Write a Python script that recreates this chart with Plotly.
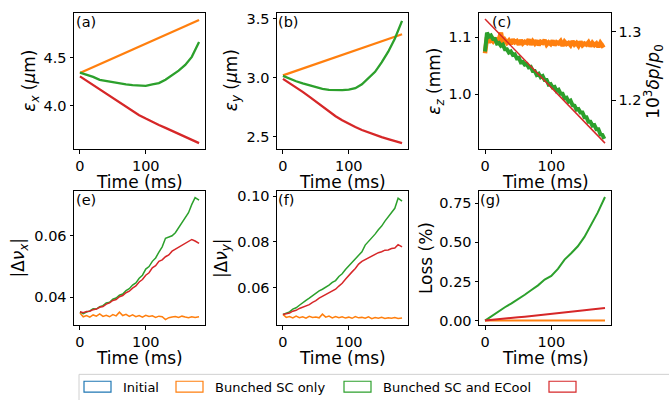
import plotly.graph_objects as go

# ---------------- data ----------------
t_coarse = [0, 10, 20, 30, 40, 50, 60, 70, 80, 90, 100, 110, 120, 130, 140, 150, 160, 170, 181]
t_mid = [0, 5, 10, 15, 20, 25, 30, 35, 40, 45, 50, 55, 60, 65, 70, 75, 80, 85, 90, 95,
         100, 105, 110, 115, 120, 125, 130, 135, 140, 145, 150, 155, 160, 165, 170, 175, 181]
t_fine = [0, 3, 6, 9, 12, 15, 18, 21, 24, 27, 30, 33, 36, 39, 42, 45, 48, 51, 54, 57,
          60, 63, 66, 69, 72, 75, 78, 81, 84, 87, 90, 93, 96, 99, 102, 105, 108, 111, 114, 117,
          120, 123, 126, 129, 132, 135, 138, 141, 144, 147, 150, 153, 156, 159, 162, 165, 168, 171, 174, 177, 180]

# (a) emittance x (um)
ex_sc = [4.340, 4.371, 4.402, 4.432, 4.463, 4.494, 4.525, 4.555, 4.586, 4.617, 4.648, 4.679,
         4.709, 4.740, 4.771, 4.802, 4.832, 4.863, 4.897]
ex_sc_ecool = [4.345, 4.325, 4.300, 4.268, 4.255, 4.243, 4.232, 4.222, 4.214, 4.207, 4.206, 4.220,
               4.235, 4.270, 4.315, 4.365, 4.425, 4.510, 4.665]
ex_ecool = [4.305, 4.260, 4.215, 4.172, 4.125, 4.077, 4.030, 3.983, 3.940, 3.898, 3.862, 3.826,
            3.795, 3.765, 3.735, 3.703, 3.672, 3.639, 3.604]

# (b) emittance y (um)
ey_sc = [3.020, 3.039, 3.058, 3.078, 3.097, 3.116, 3.135, 3.154, 3.173, 3.193, 3.212, 3.231,
         3.250, 3.269, 3.288, 3.308, 3.327, 3.346, 3.367]
ey_sc_ecool = [3.015, 2.990, 2.970, 2.952, 2.935, 2.918, 2.905, 2.897, 2.894, 2.895, 2.900, 2.912,
               2.945, 2.995, 3.050, 3.130, 3.220, 3.330, 3.480]
ey_ecool = [2.990, 2.955, 2.918, 2.880, 2.840, 2.798, 2.757, 2.715, 2.674, 2.640, 2.610, 2.583,
            2.558, 2.536, 2.516, 2.498, 2.481, 2.465, 2.448]

# (c) longitudinal emittance (mm)
ez_sc = [1.072, 1.100, 1.091, 1.097, 1.093, 1.099, 1.090, 1.096, 1.108, 1.089, 1.095, 1.090,
         1.094, 1.088, 1.096, 1.091, 1.093, 1.087, 1.095, 1.089, 1.092, 1.090, 1.096, 1.087,
         1.093, 1.089, 1.094, 1.086, 1.092, 1.090, 1.095, 1.087, 1.091, 1.088, 1.094, 1.086,
         1.091, 1.089, 1.093, 1.085, 1.092, 1.088, 1.090, 1.086, 1.093, 1.087, 1.090, 1.085,
         1.092, 1.086, 1.089, 1.087, 1.091, 1.084, 1.090, 1.086, 1.089, 1.083, 1.090, 1.085, 1.087]
ez_sc_ecool = [1.075, 1.108, 1.101, 1.103, 1.097, 1.097, 1.089, 1.090, 1.085, 1.087, 1.079, 1.079,
               1.073, 1.075, 1.069, 1.070, 1.063, 1.064, 1.056, 1.057, 1.052, 1.053, 1.047, 1.048,
               1.041, 1.041, 1.034, 1.036, 1.030, 1.032, 1.025, 1.025, 1.017, 1.018, 1.012, 1.013,
               1.006, 1.008, 1.001, 1.001, 0.993, 0.994, 0.987, 0.989, 0.981, 0.980, 0.973, 0.974,
               0.968, 0.968, 0.960, 0.960, 0.952, 0.952, 0.945, 0.946, 0.939, 0.939, 0.930, 0.929, 0.922]
ez_ecool = [1.132, 1.120, 1.108, 1.096, 1.084, 1.072, 1.060, 1.048, 1.036, 1.024, 1.012, 1.000,
            0.988, 0.976, 0.964, 0.952, 0.940, 0.928, 0.9145]

# (e) |dnu_x|
dnux_sc = [0.0348, 0.0336, 0.0340, 0.0335, 0.0342, 0.0338, 0.0345, 0.0337, 0.0341, 0.0336, 0.0343,
           0.0339, 0.0351, 0.0340, 0.0344, 0.0337, 0.0342, 0.0336, 0.0340, 0.0335, 0.0341, 0.0337,
           0.0339, 0.0334, 0.0338, 0.0336, 0.0327, 0.0333, 0.0335, 0.0337, 0.0334, 0.0338, 0.0335,
           0.0333, 0.0336, 0.0334, 0.0336]
dnux_sc_ecool = [0.0352, 0.0346, 0.0351, 0.0355, 0.0362, 0.0361, 0.0369, 0.0372, 0.0381, 0.0383,
                 0.0393, 0.0397, 0.0406, 0.0410, 0.0421, 0.0427, 0.0439, 0.0446, 0.0461, 0.0471,
                 0.0491, 0.0499, 0.0516, 0.0527, 0.0546, 0.0563, 0.0591, 0.0594, 0.0599, 0.0609,
                 0.0626, 0.0644, 0.0661, 0.0674, 0.0701, 0.0723, 0.0715]
dnux_ecool = [0.0352, 0.0349, 0.0353, 0.0354, 0.0359, 0.0361, 0.0367, 0.0369, 0.0377, 0.0381,
              0.0389, 0.0392, 0.0401, 0.0405, 0.0414, 0.0419, 0.0429, 0.0436, 0.0449, 0.0457,
              0.0471, 0.0479, 0.0495, 0.0502, 0.0516, 0.0521, 0.0531, 0.0537, 0.0549, 0.0555,
              0.0563, 0.0567, 0.0575, 0.0579, 0.0587, 0.0582, 0.0574]

# (f) |dnu_y|
dnuy_sc = [0.0483, 0.0470, 0.0474, 0.0468, 0.0476, 0.0469, 0.0473, 0.0467, 0.0475, 0.0470, 0.0472,
           0.0468, 0.0484, 0.0471, 0.0476, 0.0468, 0.0474, 0.0469, 0.0473, 0.0467, 0.0471, 0.0466,
           0.0474, 0.0468, 0.0470, 0.0466, 0.0472, 0.0464, 0.0469, 0.0466, 0.0470, 0.0465, 0.0468,
           0.0466, 0.0469, 0.0465, 0.0467]
dnuy_sc_ecool = [0.0483, 0.0489, 0.0494, 0.0506, 0.0512, 0.0523, 0.0532, 0.0544, 0.0554, 0.0566,
                 0.0574, 0.0586, 0.0593, 0.0601, 0.0611, 0.0623, 0.0631, 0.0649, 0.0661, 0.0679,
                 0.0694, 0.0711, 0.0724, 0.0741, 0.0757, 0.0786, 0.0802, 0.0816, 0.0834, 0.0853,
                 0.0869, 0.0891, 0.0909, 0.0929, 0.0947, 0.0991, 0.0978]
dnuy_ecool = [0.0483, 0.0486, 0.0489, 0.0497, 0.0501, 0.0509, 0.0514, 0.0522, 0.0526, 0.0536,
              0.0543, 0.0554, 0.0562, 0.0571, 0.0577, 0.0587, 0.0593, 0.0607, 0.0619, 0.0637,
              0.0651, 0.0669, 0.0684, 0.0703, 0.0715, 0.0723, 0.0729, 0.0739, 0.0745, 0.0753,
              0.0757, 0.0764, 0.0765, 0.0771, 0.0773, 0.0788, 0.0778]

# (g) loss (%)
loss_sc = [0.0, 0.0, 0.0, 0.0, 0.0, 0.0, 0.0, 0.0, 0.0, 0.0, 0.0, 0.0, 0.0, 0.0, 0.0, 0.0, 0.0, 0.0, 0.0]
loss_sc_ecool = [0.0, 0.030, 0.058, 0.085, 0.110, 0.135, 0.165, 0.195, 0.225, 0.262, 0.285, 0.330,
                 0.390, 0.430, 0.475, 0.535, 0.615, 0.690, 0.790]
loss_ecool = [0.0, 0.005, 0.009, 0.013, 0.017, 0.021, 0.025, 0.030, 0.035, 0.039, 0.043, 0.047,
              0.052, 0.057, 0.062, 0.066, 0.070, 0.074, 0.080]

legend_labels = ["Initial", "Bunched SC only", "Bunched SC and ECool", ""]
panel_labels = ["(a)", "(b)", "(c)", "(e)", "(f)", "(g)"]

C_BLUE, C_ORANGE, C_GREEN, C_RED = "#1f77b4", "#ff7f0e", "#2ca02c", "#d62728"
FONT = "DejaVu Sans"
W, H = 669, 400

fig = go.Figure()

def add(x, y, color, width, xa, ya):
    fig.add_trace(go.Scatter(x=x, y=y, mode="lines", line=dict(color=color, width=width),
                             xaxis=xa, yaxis=ya, showlegend=False, hoverinfo="skip"))

# (a)
add(t_coarse, ex_sc, C_ORANGE, 2.3, "x", "y")
add(t_coarse, ex_sc_ecool, C_GREEN, 2.3, "x", "y")
add(t_coarse, ex_ecool, C_RED, 2.3, "x", "y")
# (b)
add(t_coarse, ey_sc, C_ORANGE, 2.3, "x2", "y2")
add(t_coarse, ey_sc_ecool, C_GREEN, 2.3, "x2", "y2")
add(t_coarse, ey_ecool, C_RED, 2.3, "x2", "y2")
# (c)
add(t_fine, ez_sc, C_ORANGE, 4.5, "x3", "y3")
add(t_fine, ez_sc_ecool, C_GREEN, 4.0, "x3", "y3")
add(t_coarse, ez_ecool, C_RED, 1.5, "x3", "y3")
# (e)
add(t_mid, dnux_sc, C_ORANGE, 1.5, "x4", "y4")
add(t_mid, dnux_sc_ecool, C_GREEN, 1.5, "x4", "y4")
add(t_mid, dnux_ecool, C_RED, 1.5, "x4", "y4")
# (f)
add(t_mid, dnuy_sc, C_ORANGE, 1.5, "x5", "y5")
add(t_mid, dnuy_sc_ecool, C_GREEN, 1.5, "x5", "y5")
add(t_mid, dnuy_ecool, C_RED, 1.5, "x5", "y5")
# (g)
add(t_coarse, loss_sc, C_ORANGE, 2.0, "x6", "y6")
add(t_coarse, loss_sc_ecool, C_GREEN, 2.0, "x6", "y6")
add(t_coarse, loss_ecool, C_RED, 2.0, "x6", "y6")

# ---------------- layout ----------------
xcols = [(74, 205), (277, 408), (479, 611)]
rows = [(10, 148.3), (191, 327.3)]
XR = [-9.05, 190.05]

def px2fx(p):
    return p / W

def px2fy(p):
    return 1 - p / H

tickfont = dict(family=FONT, size=14.5, color="black")
common = dict(showline=True, linecolor="black", linewidth=1, mirror=True, ticks="outside",
              ticklen=3.5, tickwidth=1, tickcolor="black", tickfont=tickfont, showgrid=False,
              zeroline=False, fixedrange=True)

yranges = [[3.542, 4.972], [2.397, 3.548], [0.9041, 1.1426],
           [0.0308, 0.0744], [0.0435, 0.1022], [-0.031, 0.8275]]
ytickvals = [[4.0, 4.5], [2.5, 3.0, 3.5], [1.0, 1.1],
             [0.04, 0.06], [0.06, 0.08, 0.10], [0.0, 0.25, 0.5, 0.75]]
yticktext = [["4.0", "4.5"], ["2.5", "3.0", "3.5"], ["1.0", "1.1"],
             ["0.04", "0.06"], ["0.06", "0.08", "0.10"], ["0.00", "0.25", "0.50", "0.75"]]

layout = {}
for i in range(6):
    r, c = divmod(i, 3)
    suf = "" if i == 0 else str(i + 1)
    xd = [px2fx(xcols[c][0]), px2fx(xcols[c][1])]
    yd = [px2fy(rows[r][1]), px2fy(rows[r][0])]
    layout["xaxis" + suf] = dict(domain=xd, range=XR, anchor="y" + suf,
                                 tickvals=[0, 100], ticktext=["0", "100"], **common)
    layout["yaxis" + suf] = dict(domain=yd, range=yranges[i], anchor="x" + suf,
                                 tickvals=ytickvals[i], ticktext=yticktext[i], **common)

# right axis for (c)
layout["yaxis7"] = dict(overlaying="y3", side="right", anchor="x3", range=[1.1284, 1.3279],
                        tickvals=[1.2, 1.3], ticktext=["1.2", "1.3"], ticks="outside",
                        ticklen=3.5, tickwidth=1, tickcolor="black", tickfont=tickfont,
                        showgrid=False, zeroline=False, showline=True, linecolor="black",
                        linewidth=1, fixedrange=True)
fig.update_layout(**layout)

# empty trace so that the right axis renders
fig.add_trace(go.Scatter(x=[None], y=[None], xaxis="x3", yaxis="y7", showlegend=False,
                         hoverinfo="skip"))

annotations = []
titlefont = dict(family=FONT, size=17, color="black")

# x-axis titles
for r, ypx in enumerate([181.5, 360.5]):
    for c in range(3):
        cx = (xcols[c][0] + xcols[c][1]) / 2
        annotations.append(dict(text="Time (ms)", x=px2fx(cx), y=px2fy(ypx), xref="paper",
                                yref="paper", showarrow=False, xanchor="center",
                                yanchor="middle", font=titlefont, borderpad=0))

ytitles = [
    ("<i>ε</i><sub><i>x</i></sub> (<i>μ</i>m)", 31, 79),
    ("<i>ε</i><sub><i>y</i></sub> (<i>μ</i>m)", 232.5, 79),
    ("<i>ε</i><sub><i>z</i></sub> (mm)", 436, 79),
    ("|Δ<i>ν</i><sub><i>x</i></sub>|", 19.5, 259),
    ("|Δ<i>ν</i><sub><i>y</i></sub>|", 222, 259),
    ("Loss (%)", 426, 259),
    ("10<sup>3</sup><i>δp</i>/<i>p</i><sub>0</sub>", 654, 80),
]
for txt, xp, yp in ytitles:
    annotations.append(dict(text=txt, x=px2fx(xp), y=px2fy(yp), xref="paper", yref="paper",
                            showarrow=False, xanchor="center", yanchor="middle",
                            textangle=-90, font=titlefont, borderpad=0))

# panel labels
label_pos = [(75, 10), (277, 10), (490.5, 10), (75, 191), (277, 191), (479, 191)]
for lab, (xp, yp) in zip(panel_labels, label_pos):
    annotations.append(dict(text=lab, x=px2fx(xp), y=px2fy(yp), xref="paper", yref="paper",
                            showarrow=False, xanchor="left", yanchor="top",
                            font=dict(family=FONT, size=14.5, color="black"), borderpad=0))

# legend (drawn manually to match the clipped legend box)
shapes = []
shapes.append(dict(type="rect", xref="paper", yref="paper", x0=px2fx(79), x1=px2fx(720),
                   y0=px2fy(377), y1=px2fy(430), line=dict(color="#d0d0d0", width=1),
                   fillcolor="rgba(255,255,255,0.8)", layer="above"))
leg_colors = [C_BLUE, C_ORANGE, C_GREEN, C_RED]
leg_box_x = [84, 176, 344, 549]
for col, bx, lab in zip(leg_colors, leg_box_x, legend_labels):
    shapes.append(dict(type="rect", xref="paper", yref="paper", x0=px2fx(bx), x1=px2fx(bx + 27),
                       y0=px2fy(395), y1=px2fy(384), line=dict(color=col, width=1.2),
                       fillcolor="white", layer="above"))
    if lab:
        annotations.append(dict(text=lab, x=px2fx(bx + 37), y=px2fy(390.5), xref="paper",
                                yref="paper", showarrow=False, xanchor="left", yanchor="middle",
                                font=dict(family=FONT, size=13, color="black")))

fig.update_layout(width=W, height=H, margin=dict(l=0, r=0, t=0, b=0),
                  paper_bgcolor="white", plot_bgcolor="white", showlegend=False,
                  annotations=annotations, shapes=shapes,
                  font=dict(family=FONT, color="black"))

fig.write_html("out.html")
